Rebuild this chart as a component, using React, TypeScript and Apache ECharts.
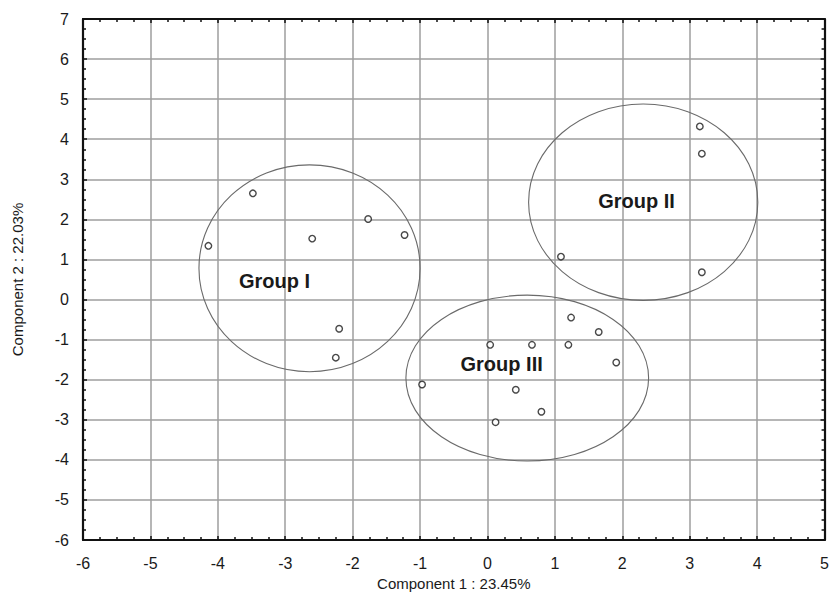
import React, { useEffect, useRef } from "react";
import * as echarts from "echarts";

// Scores of the individuals on the first two components
const group1X = [-4.14, -3.48, -2.6, -1.77, -1.23, -2.2, -2.25];
const group1Y = [1.34, 2.65, 1.52, 2.01, 1.61, -0.73, -1.45];
const group2X = [3.15, 3.18, 1.09, 3.18];
const group2Y = [4.32, 3.64, 1.07, 0.68];
const group3X = [1.24, 1.65, 0.04, 0.66, 1.2, 1.91, -0.97, 0.42, 0.8, 0.12];
const group3Y = [-0.45, -0.81, -1.13, -1.13, -1.13, -1.57, -2.12, -2.25, -2.8, -3.06];

// Group ellipses (center and radii in data units) and labels
const groupNames = ["Group I", "Group II", "Group III"];
const ellipseCX = [-2.64, 2.31, 0.59];
const ellipseCY = [0.78, 2.43, -1.96];
const ellipseRX = [1.64, 1.7, 1.8];
const ellipseRY = [2.58, 2.45, 2.07];
const labelX = [-3.16, 2.21, 0.21];
const labelY = [0.47, 2.46, -1.61];

const xTitle = "Component 1 : 23.45%";
const yTitle = "Component 2 : 22.03%";
const xMin = -6, xMax = 5, yMin = -6, yMax = 7;

const FONT = 'Arial, "Liberation Sans", Helvetica, sans-serif';

export default function App() {
  const ref = useRef<HTMLDivElement>(null);
  useEffect(() => {
    if (!ref.current) return;
    const chart = echarts.init(ref.current, null, { renderer: "svg" });
    const points = [
      ...group1X.map((x, i) => [x, group1Y[i]]),
      ...group2X.map((x, i) => [x, group2Y[i]]),
      ...group3X.map((x, i) => [x, group3Y[i]]),
    ];
    const ellipses = groupNames.map((_, i) => [ellipseCX[i], ellipseCY[i], ellipseRX[i], ellipseRY[i]]);
    const labels = groupNames.map((n, i) => [labelX[i], labelY[i], n]);

    const baseAxis = {
      type: "value",
      axisLine: { show: true, onZero: false, lineStyle: { color: "#111", width: 2.2 } },
      axisTick: { show: true, inside: true, length: 4, lineStyle: { color: "#111", width: 1.5 } },
      minorTick: { show: true, splitNumber: 4, length: 3, lineStyle: { color: "#111", width: 1.5 } },
      minorSplitLine: { show: false },
    };

    chart.setOption({
      animation: false,
      backgroundColor: "#ffffff",
      grid: { left: 83, right: 5, top: 19, bottom: 72, containLabel: false },
      xAxis: [
        {
          ...baseAxis,
          min: xMin,
          max: xMax,
          interval: 1,
          position: "bottom",
          name: xTitle,
          nameLocation: "middle",
          nameGap: 36,
          nameTextStyle: { fontFamily: FONT, fontSize: 15, color: "#1a1a1a" },
          axisLabel: { fontFamily: FONT, fontSize: 16, color: "#1a1a1a", margin: 15 },
          splitLine: { show: true, lineStyle: { color: "#9e9e9e", width: 1.5 } },
        },
        {
          ...baseAxis,
          min: xMin,
          max: xMax,
          interval: 1,
          position: "top",
          axisLabel: { show: false },
          splitLine: { show: false },
        },
      ],
      yAxis: [
        {
          ...baseAxis,
          min: yMin,
          max: yMax,
          interval: 1,
          position: "left",
          name: yTitle,
          nameLocation: "middle",
          nameGap: 58,
          nameTextStyle: { fontFamily: FONT, fontSize: 15, color: "#1a1a1a" },
          axisLabel: { fontFamily: FONT, fontSize: 16, color: "#1a1a1a", margin: 14 },
          splitLine: { show: true, lineStyle: { color: "#9e9e9e", width: 1.5 } },
        },
        {
          ...baseAxis,
          min: yMin,
          max: yMax,
          interval: 1,
          position: "right",
          axisLabel: { show: false },
          splitLine: { show: false },
        },
      ],
      series: [
        {
          type: "custom",
          data: ellipses,
          z: 3,
          renderItem: (params: any, api: any) => {
            const c = api.coord([api.value(0), api.value(1)]);
            const s = api.size([api.value(2), api.value(3)]);
            return {
              type: "ellipse",
              shape: { cx: c[0], cy: c[1], rx: s[0], ry: s[1] },
              style: { fill: "none", stroke: "#6a6a6a", lineWidth: 1.1 },
            };
          },
        },
        {
          type: "scatter",
          data: points,
          symbol: "circle",
          symbolSize: 6.5,
          z: 4,
          itemStyle: { color: "#ffffff", borderColor: "#1a1a1a", borderWidth: 1.4 },
        },
        {
          type: "custom",
          data: labels,
          z: 5,
          renderItem: (params: any, api: any) => {
            const c = api.coord([api.value(0), api.value(1)]);
            return {
              type: "text",
              x: c[0],
              y: c[1],
              style: {
                text: labels[params.dataIndex][2] as string,
                fontFamily: FONT,
                fontSize: 20,
                fontWeight: "bold",
                fill: "#1a1a1a",
                align: "center",
                verticalAlign: "middle",
              },
            };
          },
        },
      ],
    });
    return () => chart.dispose();
  }, []);
  return (
    <div
      ref={ref}
      style={{ position: "fixed", left: 0, top: 0, width: 832, height: 612, background: "#fff" }}
    />
  );
}
